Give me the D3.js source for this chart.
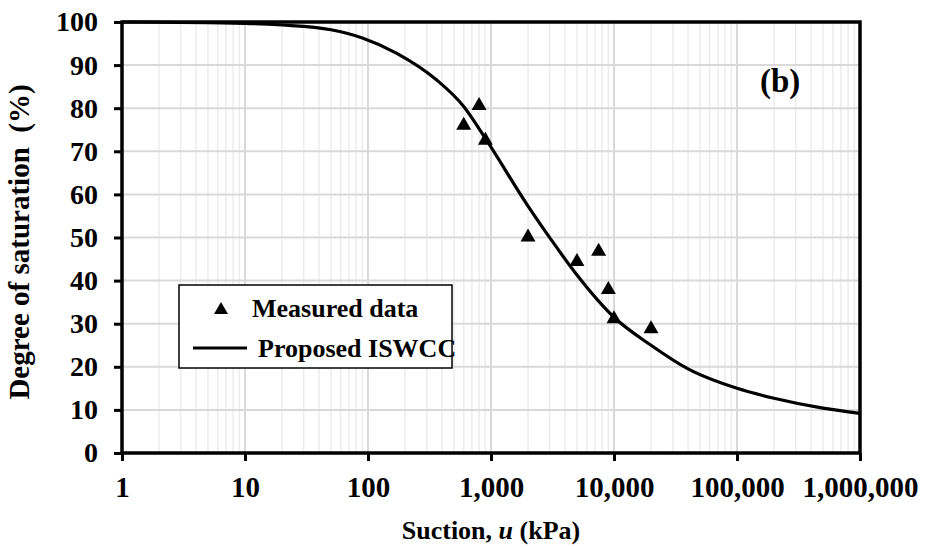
<!DOCTYPE html>
<html>
<head>
<meta charset="utf-8">
<script src="https://cdn.jsdelivr.net/npm/d3@7"></script>
<style>
  body { margin: 0; background: #fff; }
  text { font-family: "Liberation Serif", "Times New Roman", serif; font-weight: bold; fill: #000; }
</style>
</head>
<body>
<script>
// measured points
const measSuction = [600, 800, 900, 2000, 5000, 7500, 9000, 10000, 20000];
const measSat = [76.5, 81.1, 73.0, 50.6, 44.9, 47.3, 38.4, 31.6, 29.3];

// proposed ISWCC curve
const curveSuction = [1, 10, 20, 50, 90, 170, 360, 600, 900, 2000, 3100, 5000, 10000, 20000, 40000, 100000, 200000, 500000, 1000000];
const curveSat = [100, 99.7, 99.3, 98.2, 96.3, 92.8, 86.6, 80.4, 73, 57.3, 49.4, 41.3, 31.5, 25, 19.5, 15, 12.7, 10.4, 9.2];

const xTicks = [1, 10, 100, 1000, 10000, 100000, 1000000];
const yTicks = [0, 10, 20, 30, 40, 50, 60, 70, 80, 90, 100];

const width = 925, height = 549;
const margin = { top: 22, right: 65, bottom: 96, left: 122 };

const svg = d3.select("body").append("svg")
  .attr("width", width)
  .attr("height", height);

const x = d3.scaleLog().domain([1, 1e6]).range([margin.left, width - margin.right]);
const y = d3.scaleLinear().domain([0, 100]).range([height - margin.bottom, margin.top]);

// minor grid (2..9 in every decade)
const minor = [];
for (let d = 1; d < 1e6; d *= 10) {
  for (let k = 2; k <= 9; k++) minor.push(d * k);
}
svg.append("g").selectAll("line").data(minor).enter().append("line")
  .attr("x1", d => x(d)).attr("x2", d => x(d))
  .attr("y1", y(0)).attr("y2", y(100))
  .attr("stroke", "#ececec").attr("stroke-width", 1.5);

svg.append("g").selectAll("line").data(xTicks).enter().append("line")
  .attr("x1", d => x(d)).attr("x2", d => x(d))
  .attr("y1", y(0)).attr("y2", y(100))
  .attr("stroke", "#d9d9d9").attr("stroke-width", 2);

svg.append("g").selectAll("line").data(yTicks).enter().append("line")
  .attr("x1", x(1)).attr("x2", x(1e6))
  .attr("y1", d => y(d)).attr("y2", d => y(d))
  .attr("stroke", "#d9d9d9").attr("stroke-width", 2);

// axes
const fmt = d3.format(",");
const xAxis = svg.append("g")
  .attr("transform", `translate(0,${y(0)})`)
  .call(d3.axisBottom(x).tickValues(xTicks).tickFormat(fmt).tickSize(8).tickPadding(15));
xAxis.select(".domain").remove();
xAxis.selectAll("line").attr("stroke", "#000").attr("stroke-width", 3);
xAxis.selectAll("text").style("font-size", "29px").attr("fill", "#000")
  .style("font-family", '"Liberation Serif", serif').style("font-weight", "bold");

const yAxis = svg.append("g")
  .attr("transform", `translate(${x(1)},0)`)
  .call(d3.axisLeft(y).tickValues(yTicks).tickSize(8).tickPadding(16));
yAxis.select(".domain").remove();
yAxis.selectAll("line").attr("stroke", "#000").attr("stroke-width", 3);
yAxis.selectAll("text").style("font-size", "28px").attr("fill", "#000")
  .style("font-family", '"Liberation Serif", serif').style("font-weight", "bold");

// frame
svg.append("rect")
  .attr("x", x(1)).attr("y", y(100))
  .attr("width", x(1e6) - x(1)).attr("height", y(0) - y(100))
  .attr("fill", "none").attr("stroke", "#000").attr("stroke-width", 3.5);

// curve
const curvePts = curveSuction.map((s, i) => [s, curveSat[i]]);
svg.append("path")
  .datum(curvePts)
  .attr("d", d3.line().x(d => x(d[0])).y(d => y(d[1])).curve(d3.curveMonotoneX))
  .attr("fill", "none").attr("stroke", "#000").attr("stroke-width", 3.2);

// triangle centred on its box, like the spreadsheet marker
function tri(cx, cy, w, h) {
  return `M${cx},${cy - h / 2}L${cx + w / 2},${cy + h / 2}L${cx - w / 2},${cy + h / 2}Z`;
}
svg.append("g").selectAll("path").data(measSuction).enter().append("path")
  .attr("d", (d, i) => tri(x(d), y(measSat[i]), 15, 13))
  .attr("fill", "#000");

// legend
const lg = svg.append("g");
lg.append("rect").attr("x", 179).attr("y", 285).attr("width", 273).attr("height", 83)
  .attr("fill", "#fff").attr("stroke", "#000").attr("stroke-width", 1.5);
lg.append("path").attr("d", tri(221, 308, 14, 12)).attr("fill", "#000");
lg.append("text").attr("x", 252).attr("y", 317).style("font-size", "26px").text("Measured data");
lg.append("line").attr("x1", 193).attr("x2", 247).attr("y1", 348).attr("y2", 348)
  .attr("stroke", "#000").attr("stroke-width", 3.2);
lg.append("text").attr("x", 258).attr("y", 357).style("font-size", "26px").text("Proposed ISWCC");

// panel label
svg.append("text").attr("x", 760).attr("y", 92).style("font-size", "33px").text("(b)");

// axis titles
const xt = svg.append("text")
  .attr("x", 491).attr("y", 539)
  .attr("text-anchor", "middle").style("font-size", "26px");
xt.append("tspan").text("Suction, ");
xt.append("tspan").style("font-style", "italic").text("u");
xt.append("tspan").text(" (kPa)");

svg.append("text")
  .attr("transform", `translate(29,242) rotate(-90)`)
  .attr("text-anchor", "middle").style("font-size", "29px")
  .style("white-space", "pre")
  .text("Degree of saturation  (%)");
</script>
</body>
</html>
